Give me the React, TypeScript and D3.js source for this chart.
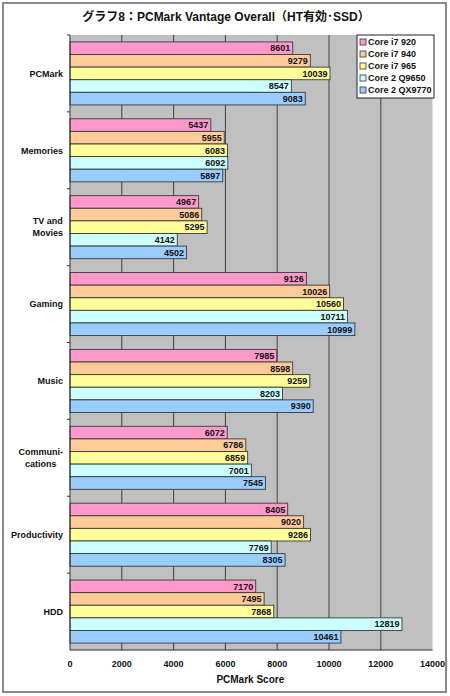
import React, { useEffect, useRef } from "react";
import * as d3 from "d3";

const categories = ["PCMark", "Memories", "TV and\nMovies", "Gaming", "Music", "Communi-\ncations", "Productivity", "HDD"];
const seriesNames = ["Core i7 920", "Core i7 940", "Core i7 965", "Core 2 Q9650", "Core 2 QX9770"];
const seriesColors = ["#ff99cc", "#ffcc99", "#ffff99", "#ccffff", "#99ccff"];
const core_i7_920 = [8601, 5437, 4967, 9126, 7985, 6072, 8405, 7170];
const core_i7_940 = [9279, 5955, 5086, 10026, 8598, 6786, 9020, 7495];
const core_i7_965 = [10039, 6083, 5295, 10560, 9259, 6859, 9286, 7868];
const core2_q9650 = [8547, 6092, 4142, 10711, 8203, 7001, 7769, 12819];
const core2_qx9770 = [9083, 5897, 4502, 10999, 9390, 7545, 8305, 10461];
const seriesValues = [core_i7_920, core_i7_940, core_i7_965, core2_q9650, core2_qx9770];
const xTicks = [0, 2000, 4000, 6000, 8000, 10000, 12000, 14000];
const title = "グラフ8：PCMark Vantage Overall（HT有効･SSD）";
const xTitle = "PCMark Score";

const W = 450, H = 696;
const plot = { left: 70, right: 432.6, top: 35, bottom: 650 };
const FONT = "'Liberation Sans', Arial, 'Noto Sans CJK JP', sans-serif";

export default function App() {
  const ref = useRef<SVGSVGElement>(null);
  useEffect(() => {
    const svg = d3.select(ref.current);
    svg.selectAll("*").remove();
    svg.append("rect").attr("x", 0).attr("y", 0).attr("width", W).attr("height", H).attr("fill", "#fff");
    svg.append("rect").attr("x", 3).attr("y", 3).attr("width", 443).attr("height", 689)
      .attr("fill", "none").attr("stroke", "#8a8a8a").attr("stroke-width", 2);

    const x = d3.scaleLinear().domain([0, 14000]).range([plot.left, plot.right]);
    const y0 = d3.scaleBand<string>().domain(categories).range([plot.top, plot.bottom]).padding(0);
    const bw = y0.bandwidth();
    const y1 = d3.scaleBand<string>().domain(seriesNames).range([bw * 0.09, bw * 0.91]).padding(0);

    // plot area
    svg.append("rect").attr("x", plot.left).attr("y", plot.top)
      .attr("width", plot.right - plot.left).attr("height", plot.bottom - plot.top)
      .attr("fill", "#c0c0c0");
    // gridlines
    svg.append("g").selectAll("line").data(xTicks.slice(1)).join("line")
      .attr("x1", d => x(d)).attr("x2", d => x(d))
      .attr("y1", plot.top).attr("y2", plot.bottom)
      .attr("stroke", d => d === 14000 ? "#e0e0e0" : "#404040").attr("stroke-width", 1);

    // bars
    const g = svg.append("g");
    categories.forEach((c, ci) => {
      seriesNames.forEach((s, si) => {
        const v = seriesValues[si][ci];
        const yy = (y0(c) as number) + (y1(s) as number);
        g.append("rect").attr("x", x(0)).attr("y", yy)
          .attr("width", x(v) - x(0)).attr("height", y1.bandwidth())
          .attr("fill", seriesColors[si]).attr("stroke", "#3a3a3a").attr("stroke-width", 0.9);
        g.append("text").attr("x", x(v) - 2.5).attr("y", yy + y1.bandwidth() / 2)
          .attr("dy", "0.36em").attr("text-anchor", "end")
          .attr("font-family", FONT).attr("font-size", 9).attr("font-weight", "bold")
          .attr("fill", "#111").text(String(v));
      });
    });

    // axes lines
    svg.append("line").attr("x1", plot.left).attr("x2", plot.left).attr("y1", plot.top).attr("y2", plot.bottom)
      .attr("stroke", "#303030").attr("stroke-width", 1);
    svg.append("line").attr("x1", plot.left).attr("x2", plot.right).attr("y1", plot.bottom).attr("y2", plot.bottom)
      .attr("stroke", "#303030").attr("stroke-width", 1);
    // category ticks
    svg.append("g").selectAll("line").data(categories).join("line")
      .attr("x1", plot.left - 3).attr("x2", plot.left)
      .attr("y1", d => (y0(d) as number)).attr("y2", d => (y0(d) as number))
      .attr("stroke", "#303030");

    // category labels
    categories.forEach(c => {
      const lines = c.split("\n");
      const cy = (y0(c) as number) + bw / 2;
      const lh = 12;
      const t = svg.append("text").attr("font-family", FONT).attr("font-size", 9)
        .attr("font-weight", "bold").attr("fill", "#111").attr("text-anchor", "middle");
      lines.forEach((ln, i) => {
        t.append("tspan").attr("y", cy + (i - (lines.length - 1) / 2) * lh).attr("dy", "0.36em").text(ln);
      });
      const tsp = t.selectAll<SVGTSpanElement, unknown>("tspan").nodes();
      const maxW = d3.max(tsp, n => n.getComputedTextLength()) || 0;
      tsp.forEach(n => n.setAttribute("x", String(63 - maxW / 2)));
    });

    // x tick labels
    svg.append("g").selectAll("text").data(xTicks).join("text")
      .attr("x", d => x(d)).attr("y", 664).attr("dy", "0.36em").attr("text-anchor", "middle")
      .attr("font-family", FONT).attr("font-size", 9).attr("font-weight", "bold").attr("fill", "#111")
      .text(d => String(d));
    svg.append("text").attr("x", (plot.left + plot.right) / 2 - 1).attr("y", 679).attr("dy", "0.36em")
      .attr("text-anchor", "middle").attr("font-family", FONT).attr("font-size", 10)
      .attr("font-weight", "bold").attr("fill", "#111").text(xTitle);

    // title
    svg.append("text").attr("x", 226).attr("y", 17).attr("dy", "0.36em").attr("text-anchor", "middle")
      .attr("font-family", FONT).attr("font-size", 12).attr("font-weight", "bold").attr("fill", "#111")
      .text(title);

    // legend
    const lg = svg.append("g");
    lg.append("rect").attr("x", 357).attr("y", 35).attr("width", 77).attr("height", 63)
      .attr("fill", "#fff").attr("stroke", "#222").attr("stroke-width", 1);
    seriesNames.forEach((s, i) => {
      const cy = 42 + i * 12;
      lg.append("rect").attr("x", 360).attr("y", cy - 3).attr("width", 6).attr("height", 6)
        .attr("fill", seriesColors[i]).attr("stroke", "#333").attr("stroke-width", 0.8);
      lg.append("text").attr("x", 368).attr("y", cy).attr("dy", "0.36em")
        .attr("font-family", FONT).attr("font-size", 9).attr("font-weight", "bold").attr("fill", "#111")
        .text(s);
    });
  }, []);
  return (
    <svg ref={ref} width={W} height={H} style={{ position: "absolute", left: 0, top: 0 }} />
  );
}
